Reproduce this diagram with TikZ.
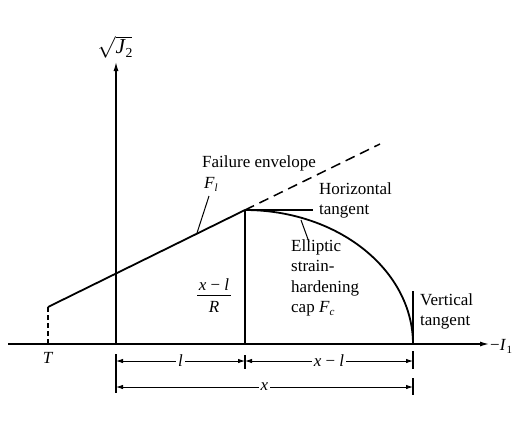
\documentclass[tikz,border=0pt]{standalone}
\usepackage{fontspec}
\setmainfont{Liberation Serif}
\usetikzlibrary{arrows.meta}
\newcommand{\vi}[1]{\textit{#1}}
\begin{document}
\begin{tikzpicture}[x=1pt,y=-1pt,
  every node/.style={font=\fontsize{17}{20.5}\selectfont, inner sep=1pt},
  axisline/.style={line width=1.2pt, -{Latex[length=9pt,width=5pt]}},
  curveline/.style={line width=1.8pt},
  thinline/.style={line width=1.2pt},
  leader/.style={line width=1pt},
  dimline/.style={line width=0.9pt, {Latex[length=7pt,width=4.5pt]}-{Latex[length=7pt,width=4.5pt]}},
  lab/.style={align=left, anchor=north west, inner sep=0pt},
  dimlab/.style={fill=white, inner sep=2pt}]
\useasboundingbox (0,0) rectangle (515,421);
% key points
\coordinate (O) at (116,344);
\coordinate (Xstart) at (8,344);
\coordinate (Xend) at (489,344);
\coordinate (Ytop) at (116,62);
\coordinate (Tb) at (48,344);
\coordinate (Tt) at (48,307);
\coordinate (P) at (245,210);
\coordinate (Pb) at (245,344);
\coordinate (D) at (380,144);
\coordinate (H) at (313,210);
\coordinate (C) at (413,344);
\coordinate (Vt) at (413,291);
% axes
\draw[axisline] (Xstart) -- (Xend);
\node[anchor=west, inner sep=0pt] (I1) at (490,346) {−\vi{I}\kern0.5pt\raisebox{-3pt}{\fontsize{11}{12}\selectfont 1}};
\draw[axisline] (O) -- (Ytop);
\node[scale=1.25] (J2) at (115,47) {$\sqrt{\vi{J}\kern0.5pt\raisebox{-3pt}{\fontsize{11}{12}\selectfont 2}}$};
% tension cut-off
\draw[thinline, dash pattern=on 5pt off 3pt] (Tb) -- (Tt);
\node (T) at (48,358) {\vi{T}};
% failure envelope
\draw[curveline] (Tt) -- (P);
\draw[line width=1.5pt, dash pattern=on 10pt off 6pt] (P) -- (D);
\draw[thinline] (P) -- (Pb);
\draw[thinline] (P) -- (H);
% elliptic cap
\draw[curveline] plot[domain=90:0, samples=80, variable=\t] ({245+168*cos(\t)},{344-134*sin(\t)});
\draw[thinline] (Vt) -- (C);
% labels
\node[anchor=west, inner sep=0pt] (fe) at (202,163) {Failure envelope};
\node (Fl) at (211,184) {\vi{F}\raisebox{-3pt}{\fontsize{11}{12}\selectfont\vi{l}}};
\coordinate (FlA) at (209,196);
\coordinate (FlB) at (197,233);
\draw[leader] (FlA) -- (FlB);
\node[lab] (ht) at (319,182) {Horizontal\\tangent};
\node[lab] (ec) at (291,239) {Elliptic\\strain-\\hardening\\cap \vi{F}\raisebox{-3pt}{\fontsize{11}{12}\selectfont\vi{c}}};
\coordinate (EcA) at (301,220);
\coordinate (EcB) at (309,242);
\draw[leader] (EcA) -- (EcB);
\node[lab] (vt) at (420,293) {Vertical\\tangent};
\node[align=center, inner sep=0pt] (frn) at (214,285) {\vi{x} − \vi{l}};
\node[inner sep=0pt] (frd) at (214,307) {\vi{R}};
\coordinate (frl) at (197,295);
\coordinate (frr) at (231,295);
\draw[line width=0.9pt] (frl) -- (frr);
% dimensions
\coordinate (d1a) at (116,361);
\coordinate (d1b) at (245,361);
\coordinate (d1c) at (413,361);
\coordinate (d2a) at (116,387);
\coordinate (d2b) at (413,387);
\draw[thinline] (116,354) -- (116,393);
\draw[thinline] (245,355) -- (245,369);
\draw[thinline] (413,351) -- (413,369);
\draw[thinline] (413,378) -- (413,395);
\draw[dimline] (d1a) -- node[dimlab] (ll) {\vi{l}} (d1b);
\draw[dimline] (d1b) -- node[dimlab] (xl) {\vi{x} − \vi{l}} (d1c);
\draw[dimline] (d2a) -- node[dimlab] (xx) {\vi{x}} (d2b);
\end{tikzpicture}
\end{document}
